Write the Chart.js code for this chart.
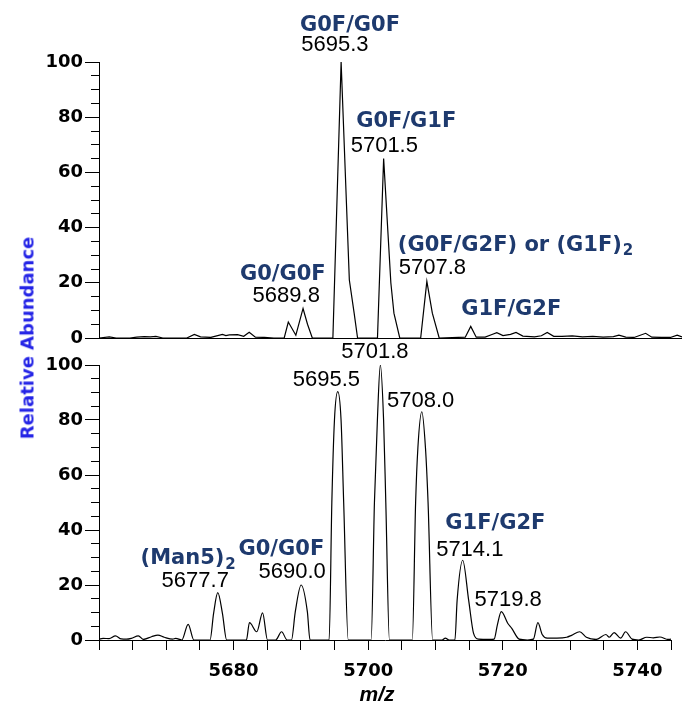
<!DOCTYPE html>
<html>
<head>
<meta charset="utf-8">
<script src="https://cdn.jsdelivr.net/npm/chart.js@4.4.1/dist/chart.umd.min.js"></script>
<style>
  body { margin: 0; background: #fff; }
  #wrap { position: relative; width: 682px; height: 709px; overflow: hidden; }
  canvas { position: absolute; left: 0; }
  #topChart { top: 0; }
  #bottomChart { top: 330px; }
  .axisTitle { position: absolute; white-space: nowrap; }
  #yTitle {
    left: 27px; top: 338px;
    transform: translate(-50%, -50%) rotate(-90deg);
    font: bold 18px "DejaVu Sans"; color: #2424e6;
  }
  #xTitle {
    left: 377px; top: 694px;
    transform: translate(-50%, -50%);
    font: italic bold 21px "Liberation Sans"; color: #000;
  }
</style>
</head>
<body>
<div id="wrap">
  <canvas id="topChart" width="682" height="360"></canvas>
  <canvas id="bottomChart" width="682" height="379"></canvas>
  <div class="axisTitle" id="yTitle">Relative Abundance</div>
  <div class="axisTitle" id="xTitle">m/z</div>
</div>
<script>
// upper spectrum (m/z, relative abundance)
const topMz = [5660.0, 5661.5, 5662.5, 5664.5, 5665.5, 5666.6, 5667.5, 5668.3, 5669.3, 5672.8,
  5673.9, 5674.8, 5676.3, 5678.0, 5678.5, 5679.0, 5680.2, 5681.1, 5681.9, 5682.8,
  5684.1, 5685.5, 5687.0, 5687.6, 5688.7, 5689.75, 5690.4, 5691.1, 5694.1, 5695.3,
  5696.5, 5697.2, 5697.7, 5700.6, 5701.5, 5702.55, 5703.0, 5703.85, 5706.9, 5707.8,
  5708.6, 5709.6, 5713.4, 5714.2, 5715.0, 5716.3, 5717.2, 5718.0, 5718.9, 5720.0,
  5720.8, 5721.8, 5723.5, 5724.5, 5725.35, 5726.3, 5727.5, 5729.0, 5730.5, 5732.0,
  5733.5, 5735.0, 5735.8, 5736.8, 5738.0, 5739.7, 5740.6, 5742.0, 5743.3, 5744.3, 5745.0];
const topAbund = [0, 0.4, 0, 0, 0.3, 0.5, 0.4, 0.6, 0, 0,
  1.3, 0.4, 0.2, 1.3, 0.9, 1.1, 1.2, 0.6, 2.1, 0.3,
  0.2, 0, 0, 5.8, 1.0, 10.7, 5.0, 0, 0, 100,
  21, 9, 0, 0, 65, 20, 9, 0, 0, 20.5,
  9, 0, 0.3, 4.2, 0.3, 0.3, 1.2, 1.9, 0.9, 1.3,
  2.0, 0.7, 0.4, 0.8, 2.0, 0.6, 0.6, 0.8, 0.4, 0.6,
  0.3, 0.5, 1.0, 0.3, 0.2, 1.7, 0.3, 0.2, 0.2, 1.0, 0.4];

// lower spectrum
const bottomMz = [5660.0, 5660.6, 5661.5, 5662.45, 5663.3, 5664.1, 5664.8, 5665.85, 5666.6, 5667.8,
  5668.75, 5669.7, 5670.95, 5671.4, 5672.3, 5673.25, 5674.1, 5676.5, 5677.03, 5677.65,
  5678.34, 5678.97, 5681.9, 5682.36, 5683.44, 5684.31, 5685.04, 5686.25, 5687.13, 5687.96,
  5688.6, 5689.17, 5690.04, 5690.96, 5691.36, 5694.2, 5694.6, 5694.99, 5695.48, 5695.97,
  5696.36, 5697.04, 5700.44, 5700.93, 5701.37, 5701.81, 5702.29, 5702.62, 5703.16, 5706.56,
  5707.05, 5707.39, 5707.97, 5708.51, 5708.9, 5709.58, 5711.0, 5711.47, 5712.0, 5712.89,
  5713.22, 5714.05, 5714.93, 5715.66, 5716.4, 5718.0, 5718.71, 5719.2, 5719.78, 5720.76,
  5721.34, 5722.45, 5723.67, 5724.55, 5725.22, 5725.86, 5726.59, 5728.05, 5729.5, 5730.23,
  5731.44, 5732.42, 5733.88, 5735.33, 5735.82, 5736.55, 5737.52, 5738.25, 5739.22, 5740.19,
  5741.4, 5742.38, 5743.35, 5744.56, 5745.0];
const bottomAbund = [0.3, 0.6, 0.5, 1.5, 0.4, 0.3, 0.6, 1.5, 0.2, 1.2,
  1.8, 1.0, 0.3, 0.6, 0, 5.7, 0, 0, 9.7, 17.2,
  9.7, 0, 0, 6.3, 3.0, 9.9, 0, 0, 3.0, 0,
  0, 10.3, 20, 10.3, 0, 0, 50, 80, 90.3, 80,
  50, 0, 0, 50, 80, 100, 80, 50, 0, 0,
  50, 70, 83, 70, 50, 0, 0, 0.7, 0, 0,
  14.5, 29, 14.5, 2.4, 0.3, 0.2, 0.3, 5.5, 10.3, 6.0,
  4.2, 0.3, 0, 0.3, 6.3, 2.0, 0.7, 0.7, 1.0, 1.7,
  3.0, 1.0, 0.2, 2.0, 1.0, 2.7, 0.7, 3.0, 0.3, 0,
  1.0, 0.8, 1.1, 0.2, 0.3];

// peak annotations: text, anchor m/z, anchor abundance, subscript
const topLabels = ['G0F/G0F', '5695.3', 'G0F/G1F', '5701.5', '(G0F/G2F) or (G1F)', '5707.8', 'G1F/G2F', 'G0/G0F', '5689.8'];
const topLabelMz = [5696.6, 5694.4, 5704.8, 5701.6, 5719.9, 5708.6, 5720.1, 5686.8, 5687.3];
const topLabelAbund = [113.8, 106.2, 79.0, 69.7, 34.4, 25.4, 10.9, 23.7, 15.4];
const topLabelSub = ['', '', '', '', '2', '', '', '', ''];

const bottomLabels = ['5701.8', '5695.5', '5708.0', 'G1F/G2F', '5714.1', '5719.8', '(Man5)', '5677.7', 'G0/G0F', '5690.0'];
const bottomLabelMz = [5701.0, 5693.8, 5707.8, 5718.9, 5715.1, 5720.8, 5672.4, 5674.3, 5687.1, 5688.7];
const bottomLabelAbund = [104.7, 94.4, 86.9, 43.1, 32.7, 14.5, 30.2, 21.6, 33.5, 24.9];
const bottomLabelSub = ['', '', '', '', '', '', '2', '', '', ''];

const yTickValues = [0, 20, 40, 60, 80, 100];
const xTickLabels = [5680, 5700, 5720, 5740];

const NAME_FONT = 'bold 21px "DejaVu Sans"';
const NUM_FONT = '22px "Liberation Sans"';
const NAME_COLOR = '#1e3a6e';
const tickFont = { family: 'DejaVu Sans', size: 18, weight: 'bold' };

function peakLabels(texts, mzs, abunds, subs) {
    return {
        id: 'peakLabels',
        afterDatasetsDraw(chart) {
            const ctx = chart.ctx;
            const x = chart.scales.x;
            const y = chart.scales.y;
            ctx.save();
            ctx.textBaseline = 'middle';
            texts.forEach((t, i) => {
                const isNum = /^[0-9.]+$/.test(t);
                ctx.font = isNum ? NUM_FONT : NAME_FONT;
                ctx.fillStyle = isNum ? '#000' : NAME_COLOR;
                const px = x.getPixelForValue(mzs[i]);
                // DejaVu sits a little high with 'middle'
                const py = y.getPixelForValue(abunds[i]) + (isNum ? 0 : 2);
                ctx.textAlign = 'center';
                ctx.fillText(t, px, py);
                if (subs[i]) {
                    const w = ctx.measureText(t).width;
                    ctx.font = 'bold 15px "DejaVu Sans"';
                    ctx.textAlign = 'left';
                    ctx.fillText(subs[i], px + w / 2 + 1, py + 6);
                }
            });
            ctx.restore();
        }
    };
}

function yScales() {
    return {
        y: {
            min: 0, max: 100, position: 'left', weight: 1,
            afterBuildTicks: s => { s.ticks = yTickValues.map(v => ({ value: v })); },
            ticks: { font: tickFont, color: '#000', padding: 2 },
            grid: { drawOnChartArea: false, tickLength: 14, color: '#000' },
            border: { color: '#000', width: 1 },
            afterFit: s => { s.width = 99; }
        },
        // minor ticks every 5, shorter, no labels
        yMinor: {
            min: 0, max: 100, position: 'left', weight: 0,
            ticks: { display: false, stepSize: 5 },
            grid: { drawOnChartArea: false, tickLength: 8, color: '#000' },
            border: { display: false },
            afterFit: s => { s.width = 0; }
        }
    };
}

function spectrum(mz, ab, smooth) {
    return {
        data: mz.map((m, i) => ({ x: m, y: ab[i] })),
        borderColor: '#000',
        borderWidth: 1.2,
        pointRadius: 0,
        fill: false,
        tension: smooth ? 0.4 : 0,
        cubicInterpolationMode: smooth ? 'monotone' : 'default'
    };
}

const common = {
    responsive: false,
    animation: false,
    events: [],
    plugins: { legend: { display: false }, tooltip: { enabled: false } }
};

new Chart(document.getElementById('topChart'), {
    type: 'line',
    data: { datasets: [spectrum(topMz, topAbund, false)] },
    options: {
        ...common,
        layout: { padding: { top: 62, bottom: 22, left: 0, right: 0 } },
        scales: {
            x: {
                type: 'linear', min: 5660, max: 5745,
                ticks: { display: false },
                grid: { drawOnChartArea: false, drawTicks: false },
                border: { color: '#000', width: 1 },
                afterFit: s => { s.height = 0; }
            },
            ...yScales()
        }
    },
    plugins: [peakLabels(topLabels, topLabelMz, topLabelAbund, topLabelSub)]
});

new Chart(document.getElementById('bottomChart'), {
    type: 'line',
    data: { datasets: [spectrum(bottomMz, bottomAbund, true)] },
    options: {
        ...common,
        layout: { padding: { top: 35, bottom: 0, left: 0, right: 0 } },
        scales: {
            x: {
                type: 'linear', min: 5660, max: 5745,
                ticks: {
                    stepSize: 5, autoSkip: false, maxRotation: 0, padding: 11,
                    font: tickFont, color: '#000',
                    callback: v => xTickLabels.includes(v) ? String(v) : ''
                },
                grid: { drawOnChartArea: false, tickLength: 10, color: '#000' },
                border: { color: '#000', width: 1 },
                afterFit: s => { s.height = 69; }
            },
            ...yScales()
        }
    },
    plugins: [peakLabels(bottomLabels, bottomLabelMz, bottomLabelAbund, bottomLabelSub)]
});
</script>
</body>
</html>
